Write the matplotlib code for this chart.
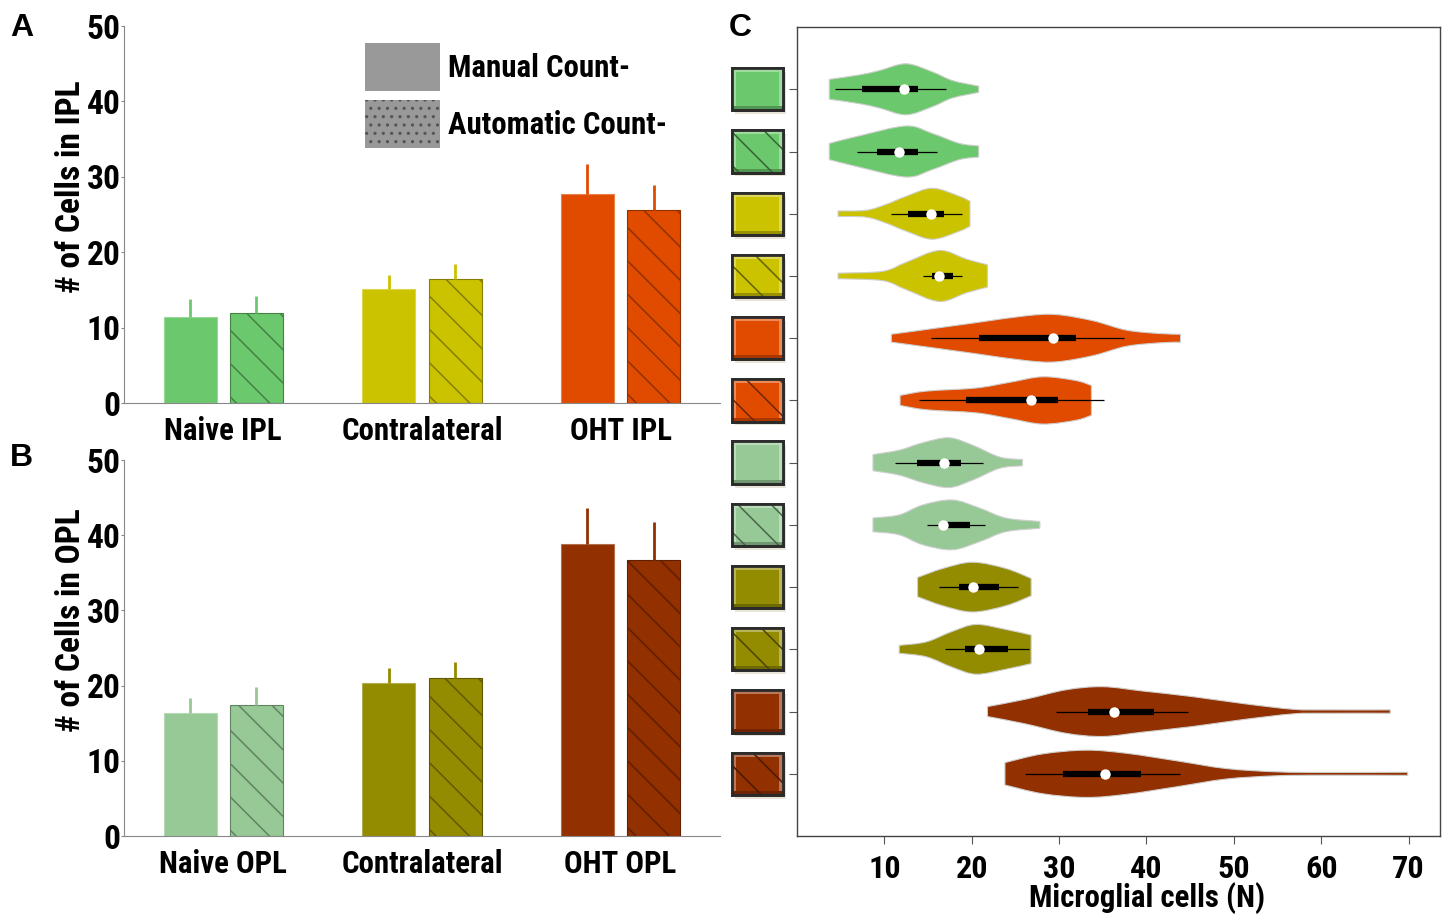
import os
import matplotlib
matplotlib.use('Agg')
import matplotlib.pyplot as plt
import matplotlib.transforms as mtransforms
from matplotlib.path import Path
from matplotlib.patches import PathPatch, Rectangle, Patch
from matplotlib.font_manager import FontProperties, fontManager
import numpy as np

# --- panels A and B: mean counts, upper error only ---
ipl_labels = ['Naive IPL', 'Contralateral', 'OHT IPL']
ipl_manual = [11.4, 15.1, 27.7]
ipl_manual_err = [2.4, 1.9, 4.0]
ipl_auto = [11.9, 16.4, 25.6]
ipl_auto_err = [2.3, 2.0, 3.3]

opl_labels = ['Naive OPL', 'Contralateral', 'OHT OPL']
opl_manual = [16.4, 20.3, 38.8]
opl_manual_err = [2.0, 2.0, 4.8]
opl_auto = [17.4, 21.0, 36.7]
opl_auto_err = [2.4, 2.1, 5.1]

ipl_colors = ['#6cc86c', '#cbc300', '#e04b00']
opl_colors = ['#96c996', '#938b00', '#933000']

# --- panel C: violin outlines (value, half width) ---
violin_x = [
    [3.7, 7.1, 9.4, 12.5, 15.5, 17.8, 20.8],
    [3.7, 7.1, 12.5, 15.5, 18.6, 20.8],
    [4.7, 7.9, 10.2, 12.5, 15.5, 18.6, 19.8],
    [4.7, 9.8, 12.5, 16.3, 19.4, 21.8],
    [10.8, 14.8, 20.5, 26.2, 29.7, 33.9, 37.7, 41.5, 43.9],
    [11.8, 14.8, 20.5, 24.3, 28.1, 31.9, 33.7],
    [8.7, 11.7, 14.4, 17.4, 20.1, 23.2, 25.8],
    [8.7, 11.7, 14.4, 17.8, 20.9, 23.9, 27.8],
    [13.8, 16.7, 20.1, 23.9, 26.8],
    [11.7, 14.8, 17.8, 20.5, 23.9, 26.8],
    [21.8, 26.2, 30.8, 35.0, 39.6, 45.3, 51.0, 56.8, 60.6, 67.9],
    [23.8, 28.1, 33.1, 37.7, 43.4, 49.1, 54.9, 60.6, 69.9],
]
violin_w = [
    [0.16, 0.23, 0.30, 0.41, 0.28, 0.14, 0.05],
    [0.13, 0.25, 0.41, 0.29, 0.13, 0.09],
    [0.045, 0.055, 0.15, 0.28, 0.41, 0.28, 0.20],
    [0.045, 0.075, 0.22, 0.41, 0.27, 0.18],
    [0.064, 0.14, 0.25, 0.36, 0.38, 0.28, 0.13, 0.075, 0.064],
    [0.08, 0.15, 0.20, 0.29, 0.38, 0.32, 0.24],
    [0.13, 0.20, 0.32, 0.40, 0.28, 0.09, 0.05],
    [0.11, 0.16, 0.32, 0.40, 0.27, 0.11, 0.055],
    [0.155, 0.30, 0.40, 0.30, 0.14],
    [0.064, 0.12, 0.29, 0.40, 0.32, 0.23],
    [0.08, 0.20, 0.35, 0.40, 0.33, 0.24, 0.13, 0.037, 0.027, 0.027],
    [0.18, 0.32, 0.38, 0.33, 0.21, 0.085, 0.032, 0.022, 0.025],
]
whisk_lo = [4.3, 6.9, 10.8, 14.4, 15.3, 14.0, 11.2, 14.9, 16.2, 16.9, 29.6, 26.1]
q1 = [7.4, 9.2, 12.7, 15.5, 20.8, 19.3, 13.7, 16.9, 18.5, 19.2, 33.3, 30.5]
median = [12.2, 11.7, 15.3, 16.3, 29.3, 26.8, 16.8, 16.7, 20.2, 20.8, 36.3, 35.3]
q3 = [13.8, 13.8, 16.8, 17.8, 31.9, 29.9, 18.8, 19.8, 23.1, 24.1, 40.9, 39.4]
whisk_hi = [17.0, 16.0, 18.9, 18.9, 37.4, 35.1, 21.3, 21.5, 25.3, 26.5, 44.7, 43.8]

plt.rcParams['hatch.linewidth'] = 1.1

# prefer a narrow bold face if one is installed
NARROW = ['liberationsansnarrow-bold.ttf', 'notosans-condensedbold.ttf',
          'robotocondensed-bold.ttf', 'dejavusanscondensed-bold.ttf',
          'notosans-semicondensedbold.ttf']
files = {os.path.basename(f.fname).lower(): f.fname for f in fontManager.ttflist}
narrow_file = next((files[n] for n in NARROW if n in files), None)
SCALE = 1.0


def font(size):
    if narrow_file:
        return FontProperties(fname=narrow_file, size=size * SCALE)
    return FontProperties(family=['Liberation Sans', 'DejaVu Sans'], weight='bold',
                          size=size * SCALE)


def mix(color, other, t):
    c = np.array(matplotlib.colors.to_rgb(color))
    o = np.array(matplotlib.colors.to_rgb(other))
    return tuple(c * (1 - t) + o * t)


fig = plt.figure(figsize=(14.48, 9.17), dpi=100)

# size the text so that a label is as wide as in the reference
renderer = fig.canvas.get_renderer()
probe = fig.text(0, 0, 'Naive IPL', fontproperties=font(23))
SCALE = min(1.0, 118.0 / probe.get_window_extent(renderer).width)
probe.remove()


def bar_panel(ax, labels, manual, manual_err, auto, auto_err, colors, ylabel):
    x = np.arange(len(labels))
    w = 0.267
    off = 0.167
    for i, c in enumerate(colors):
        ax.bar(x[i] - off, manual[i], w, color=c, edgecolor=mix(c, 'white', 0.3), linewidth=0.8)
        ax.bar(x[i] + off, auto[i], w, color=c, edgecolor=mix(c, 'black', 0.35),
               linewidth=0.8, hatch='\\')
        ax.errorbar([x[i] - off], [manual[i]], yerr=[[0], [manual_err[i]]], fmt='none',
                    ecolor=c, elinewidth=2, capsize=0)
        ax.errorbar([x[i] + off], [auto[i]], yerr=[[0], [auto_err[i]]], fmt='none',
                    ecolor=c, elinewidth=2, capsize=0)
    ax.set_xlim(-0.5, 2.5)
    ax.set_ylim(0, 50)
    ax.set_yticks(range(0, 51, 10))
    ax.set_xticks(x)
    ax.set_xticklabels(labels, fontproperties=font(23))
    for t in ax.get_yticklabels():
        t.set_fontproperties(font(25))
    ax.tick_params(axis='x', length=0, pad=9)
    ax.tick_params(axis='y', length=2, color='#888888', pad=0.5)
    for s in ['top', 'right']:
        ax.spines[s].set_visible(False)
    for s in ['left', 'bottom']:
        ax.spines[s].set_color('#888888')
    ax.set_ylabel(ylabel, fontproperties=font(25))


def smooth_chain(pts):
    # Catmull-Rom through the read points, drawn as cubic Bezier pieces
    verts, codes = [], []
    n = len(pts)
    for i in range(n - 1):
        p0 = pts[max(i - 1, 0)]
        p1 = pts[i]
        p2 = pts[i + 1]
        p3 = pts[min(i + 2, n - 1)]
        verts += [p1 + (p2 - p0) / 6.0, p2 - (p3 - p1) / 6.0, p2]
        codes += [Path.CURVE4] * 3
    return verts, codes


def violin_patch(xs, ws, pos, color):
    xs = np.asarray(xs, float)
    ws = np.asarray(ws, float)
    top = np.column_stack([xs, pos - ws])
    bot = np.column_stack([xs[::-1], pos + ws[::-1]])
    verts = [top[0]]
    codes = [Path.MOVETO]
    v, c = smooth_chain(top)
    verts += v
    codes += c
    verts.append(bot[0])
    codes.append(Path.LINETO)
    v, c = smooth_chain(bot)
    verts += v
    codes += c
    verts.append(top[0])
    codes.append(Path.CLOSEPOLY)
    return PathPatch(Path(verts, codes), facecolor=color, edgecolor='#cfcfcf',
                     linewidth=0.8, zorder=2)


axa = fig.add_axes([0.0856, 0.5605, 0.4116, 0.4111])
bar_panel(axa, ipl_labels, ipl_manual, ipl_manual_err, ipl_auto, ipl_auto_err,
          ipl_colors, '# of Cells in IPL')
axa.yaxis.set_label_coords(-0.062, 0.573)

# legend handle box height is fontsize * (0.65 * handleheight + 0.245)
leg_px = 23 * SCALE * 100 / 72.0
hh = (48 / leg_px - 0.245) / 0.65
handles = [Patch(facecolor='#999999', linewidth=0),
           Patch(facecolor='#999999', edgecolor='#555555', hatch='..', linewidth=0)]
axa.legend(handles, ['Manual Count-', 'Automatic Count-'], loc='upper left',
           bbox_to_anchor=(0.404, 0.955), frameon=False, prop=font(23),
           handlelength=75 / leg_px, handleheight=hh, labelspacing=9 / leg_px,
           handletextpad=8 / leg_px, borderpad=0, borderaxespad=0)

axb = fig.add_axes([0.0856, 0.0883, 0.4116, 0.4100])
bar_panel(axb, opl_labels, opl_manual, opl_manual_err, opl_auto, opl_auto_err,
          opl_colors, '# of Cells in OPL')
axb.yaxis.set_label_coords(-0.062, 0.574)

# panel C
axc = fig.add_axes([0.5504, 0.0883, 0.4441, 0.8822])
vcolors = [c for c in ipl_colors + opl_colors for _ in range(2)]
positions = np.arange(1, len(violin_x) + 1)
for i, pos in enumerate(positions):
    axc.add_patch(violin_patch(violin_x[i], violin_w[i], pos, vcolors[i]))
    axc.hlines(pos, whisk_lo[i], whisk_hi[i], color='black', linewidth=0.9, zorder=3)
    axc.hlines(pos, q1[i], q3[i], color='black', linewidth=4.5, zorder=4)
    axc.plot(median[i], pos, 'o', color='white', markersize=7.5, markeredgewidth=0, zorder=5)

axc.set_xlim(0, 73.6)
axc.set_ylim(13, 0)
axc.set_xticks(range(10, 71, 10))
for t in axc.get_xticklabels():
    t.set_fontproperties(font(24))
axc.set_yticks(positions)
axc.set_yticklabels([])
axc.tick_params(axis='both', length=6, color='#555555')
axc.tick_params(axis='x', pad=7)
for s in axc.spines.values():
    s.set_color('#444444')
    s.set_linewidth(1)
axc.set_xlabel('Microglial cells (N)', fontproperties=font(23))
axc.xaxis.set_label_coords(0.544, -0.057)

# beveled colour keys left of the violins
trans = mtransforms.blended_transform_factory(axc.transAxes, axc.transData)
kx, kw, kh = -0.1011, 0.0793, 0.68
dx, dy = 4 / 643.0, 4 / 62.2
for i, pos in enumerate(positions):
    c = vcolors[i]
    y0 = pos - kh / 2
    axc.add_patch(Rectangle((kx + 0.005, y0 + 0.06), kw, kh, transform=trans,
                            clip_on=False, facecolor='#e8e4d8', edgecolor='none', zorder=1))
    axc.add_patch(Rectangle((kx, y0), kw, kh, transform=trans, clip_on=False,
                            facecolor=mix(c, 'black', 0.25), edgecolor='#2b2b2b',
                            linewidth=2, zorder=2))
    axc.add_patch(Rectangle((kx, y0), kw, kh - dy, transform=trans, clip_on=False,
                            facecolor=mix(c, 'white', 0.35), edgecolor='none', zorder=2.5))
    axc.add_patch(Rectangle((kx + dx, y0 + dy), kw - 2 * dx, kh - 2 * dy,
                            transform=trans, clip_on=False, facecolor=c,
                            edgecolor='none', zorder=3))
    if i % 2 == 1:
        axc.add_patch(Rectangle((kx, y0), kw, kh, transform=trans, clip_on=False,
                                fill=False, hatch='\\', edgecolor=mix(c, 'black', 0.5),
                                linewidth=0, zorder=4))
    axc.add_patch(Rectangle((kx, y0), kw, kh, transform=trans, clip_on=False,
                            fill=False, edgecolor='#2b2b2b', linewidth=2, zorder=5))

lf = FontProperties(family=['Liberation Sans', 'DejaVu Sans'], weight='bold', size=23)
fig.text(10 / 1448, 1 - 13 / 917, 'A', fontproperties=lf, va='top', ha='left')
fig.text(10 / 1448, 1 - 443 / 917, 'B', fontproperties=lf, va='top', ha='left')
fig.text(729 / 1448, 1 - 13 / 917, 'C', fontproperties=lf, va='top', ha='left')

fig.savefig('out.png', dpi=100)
